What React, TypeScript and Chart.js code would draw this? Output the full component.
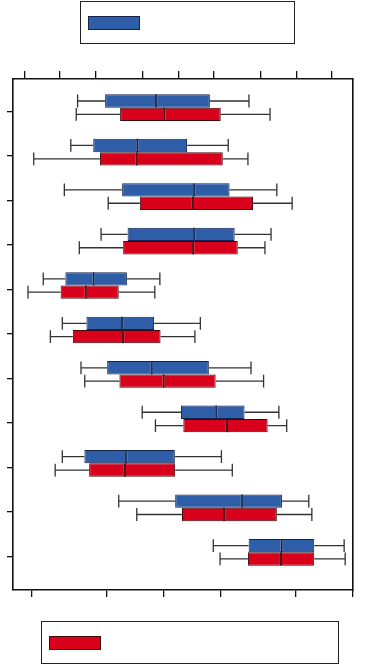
import React, { useEffect, useRef } from 'react';
import { Chart, registerables } from 'chart.js';

Chart.register(...registerables);

// ---- data ----
const CATEGORIES = ['1', '2', '3', '4', '5', '6', '7', '8', '9', '10', '11'];

const BLUE_MIN = [19.0, 17.0, 15.1, 25.9, 8.9, 14.5, 20.0, 38.0, 14.5, 31.1, 58.9];
const BLUE_Q1 = [27.1, 23.6, 32.1, 33.7, 15.4, 21.6, 27.7, 49.4, 21.0, 47.7, 69.3];
const BLUE_MED = [42.1, 36.6, 53.3, 53.3, 23.7, 32.1, 40.8, 59.8, 33.3, 67.3, 79.0];
const BLUE_Q3 = [57.9, 51.2, 63.7, 65.2, 33.5, 41.5, 57.6, 68.1, 47.6, 79.1, 88.6];
const BLUE_MAX = [69.4, 63.3, 77.6, 75.9, 43.2, 55.1, 70.0, 78.2, 61.3, 87.0, 97.4];

const RED_MIN = [18.6, 6.1, 28.0, 19.5, 4.4, 11.0, 21.1, 41.9, 12.4, 36.4, 60.9];
const RED_Q1 = [31.5, 25.6, 37.3, 32.4, 14.0, 17.6, 31.3, 50.1, 22.4, 49.7, 69.1];
const RED_MED = [44.5, 36.4, 52.9, 53.0, 21.4, 32.4, 44.3, 62.9, 32.9, 62.1, 78.8];
const RED_Q3 = [61.1, 61.7, 70.6, 66.1, 31.1, 43.4, 59.6, 74.9, 47.7, 77.6, 88.6];
const RED_MAX = [75.6, 69.1, 82.1, 74.1, 41.7, 53.5, 73.7, 80.5, 64.5, 87.9, 97.7];

const TOP_TICKS = [3.5, 13.8, 24.4, 38.2, 48.8, 59.1, 72.9, 83.5, 93.8];
const BOTTOM_TICKS = [5.6, 27.6, 44.4, 61.2, 83.2, 100];

const SERIES = [
  { key: 'blue', label: '', fill: '#2f5ea8', border: '#15234a', min: BLUE_MIN, q1: BLUE_Q1, med: BLUE_MED, q3: BLUE_Q3, max: BLUE_MAX },
  { key: 'red', label: '', fill: '#d9001b', border: '#3e080d', min: RED_MIN, q1: RED_Q1, med: RED_MED, q3: RED_Q3, max: RED_MAX },
];

const ROW_TICK_OFFSET = 0.09;

const whiskerPlugin = {
  id: 'whiskers',
  afterDatasetsDraw(chart: any) {
    const ctx = chart.ctx;
    const x = chart.scales.x;
    SERIES.forEach((s, si) => {
      const meta = chart.getDatasetMeta(si * 2);
      meta.data.forEach((el: any, i: number) => {
        const y = el.y;
        const h = el.height;
        const pMin = x.getPixelForValue(s.min[i]);
        const pQ1 = x.getPixelForValue(s.q1[i]);
        const pMed = x.getPixelForValue(s.med[i]);
        const pQ3 = x.getPixelForValue(s.q3[i]);
        const pMax = x.getPixelForValue(s.max[i]);
        ctx.save();
        ctx.strokeStyle = '#333333';
        ctx.lineWidth = 1.3;
        ctx.beginPath();
        ctx.moveTo(pMin, y);
        ctx.lineTo(pQ1, y);
        ctx.moveTo(pQ3, y);
        ctx.lineTo(pMax, y);
        const ch = h * 0.48;
        ctx.moveTo(pMin, y - ch);
        ctx.lineTo(pMin, y + ch);
        ctx.moveTo(pMax, y - ch);
        ctx.lineTo(pMax, y + ch);
        ctx.stroke();
        // median line
        ctx.strokeStyle = s.border;
        ctx.lineWidth = 1.2;
        ctx.beginPath();
        ctx.moveTo(pMed, y - h / 2);
        ctx.lineTo(pMed, y + h / 2);
        ctx.stroke();
        ctx.restore();
      });
    });
  },
};

export default function App() {
  const ref = useRef<HTMLCanvasElement | null>(null);

  useEffect(() => {
    if (!ref.current) return;
    const datasets: any[] = [];
    SERIES.forEach((s) => {
      datasets.push({
        label: s.label,
        stack: s.key,
        data: CATEGORIES.map((_, i) => ({ y: i, x: [s.q1[i], s.med[i]] })),
        backgroundColor: s.fill,
        borderColor: s.border,
        borderWidth: 1,
        borderSkipped: false,
        categoryPercentage: 0.6,
        barPercentage: 1,
        xAxisID: 'x',
        yAxisID: 'y',
      });
      datasets.push({
        label: s.label,
        stack: s.key,
        data: CATEGORIES.map((_, i) => ({ y: i, x: [s.med[i], s.q3[i]] })),
        backgroundColor: s.fill,
        borderColor: s.border,
        borderWidth: 1,
        borderSkipped: false,
        categoryPercentage: 0.6,
        barPercentage: 1,
        xAxisID: 'x',
        yAxisID: 'y',
      });
    });

    const chart = new Chart(ref.current, {
      type: 'bar',
      data: { datasets },
      options: {
        animation: false,
        responsive: true,
        maintainAspectRatio: false,
        indexAxis: 'y',
        layout: { padding: { top: 71, bottom: 69, left: 7, right: 17 } },
        plugins: { legend: { display: false }, tooltip: { enabled: false } },
        scales: {
          x: {
            type: 'linear',
            position: 'top',
            stacked: false,
            min: 0,
            max: 100,
            afterBuildTicks: (scale: any) => {
              scale.ticks = TOP_TICKS.map((v) => ({ value: v }));
            },
            ticks: { display: false },
            grid: { drawOnChartArea: false, drawTicks: true, tickLength: 8, color: '#111', lineWidth: 1.3 },
            border: { display: true, color: '#111', width: 1.6 },
          },
          x2: {
            type: 'linear',
            position: 'bottom',
            min: 0,
            max: 100,
            afterBuildTicks: (scale: any) => {
              scale.ticks = BOTTOM_TICKS.map((v) => ({ value: v }));
            },
            ticks: { display: false },
            grid: { drawOnChartArea: false, drawTicks: true, tickLength: 7, color: '#111', lineWidth: 1.3 },
            border: { display: true, color: '#111', width: 1.6 },
          },
          y: {
            type: 'linear',
            reverse: true,
            offset: false,
            min: -0.645,
            max: 10.848,
            afterBuildTicks: (scale: any) => {
              scale.ticks = CATEGORIES.map((_, i) => ({ value: i + ROW_TICK_OFFSET }));
            },
            ticks: { display: false },
            grid: { offset: false, drawOnChartArea: false, drawTicks: true, tickLength: 6, color: '#111', lineWidth: 1.3 },
            border: { display: true, color: '#111', width: 1.6 },
          },
          y2: {
            type: 'linear',
            position: 'right',
            min: 0,
            max: 1,
            ticks: { display: false },
            grid: { display: false, drawTicks: false },
            border: { display: true, color: '#111', width: 1.6 },
          },
        },
      } as any,
      plugins: [whiskerPlugin],
    });
    return () => chart.destroy();
  }, []);

  const legendBoxes = [
    { s: SERIES[0], box: { left: 80, top: 1, width: 215, height: 43 }, sw: { left: 88, top: 16 } },
    { s: SERIES[1], box: { left: 41, top: 621, width: 298, height: 43 }, sw: { left: 49, top: 636 } },
  ];

  return (
    <div style={{ position: 'fixed', left: 0, top: 0, width: 370, height: 666, background: '#fff' }}>
      <canvas ref={ref} />
      {legendBoxes.map((l) => (
        <React.Fragment key={l.s.key}>
          <div
            style={{
              position: 'absolute',
              left: l.box.left,
              top: l.box.top,
              width: l.box.width,
              height: l.box.height,
              border: '1px solid #222',
              boxSizing: 'border-box',
            }}
          />
          <div
            style={{
              position: 'absolute',
              left: l.sw.left,
              top: l.sw.top,
              width: 52,
              height: 14,
              background: l.s.fill,
              border: '1px solid ' + l.s.border,
              boxSizing: 'border-box',
            }}
          >
            <span style={{ display: 'none' }}>{l.s.label}</span>
          </div>
        </React.Fragment>
      ))}
    </div>
  );
}
